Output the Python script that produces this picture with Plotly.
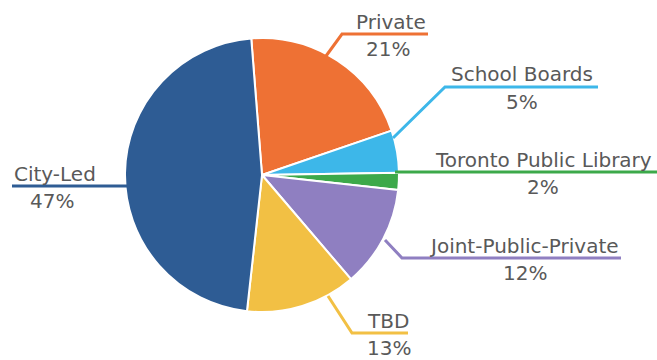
import plotly.graph_objects as go

# ---- data ----
categories = ["Private", "School Boards", "Toronto Public Library",
              "Joint-Public-Private", "TBD", "City-Led"]
shares = [21, 5, 2, 12, 13, 47]
pct_labels = ["21%", "5%", "2%", "12%", "13%", "47%"]

# ---- styles ----
colors = ["#EE7134", "#3DB7E9", "#3CA94A", "#8F7FC1", "#F2C044", "#2E5C94"]
W, H = 657, 360
font_family = "DejaVu Sans"
font_size = 20
text_color = "#595959"

# label layout in pixels: (pointer end x, y), (elbow x, y), line right end x, text centre x, pct centre x
label_layout = [
    ((326, 56), (342, 34), 428, 391, 388),
    ((393, 138), (445, 87), 598, 522, 522),
    ((395, 172), (395, 172), 657, 543, 543),
    ((385, 240), (402, 258), 621, 524, 525),
    ((328, 296), (352, 333), 408, 388, 389),
    ((127, 186), (127, 186), 12, 55, 52),
]

cx, cy, r = 262, 175, 137


def px(x):
    return x / W


def py(y):
    return 1 - y / H


fig = go.Figure()
fig.add_trace(go.Pie(
    labels=categories, values=shares, sort=False, direction="clockwise",
    rotation=-4.5, textinfo="none", hoverinfo="label+percent",
    marker=dict(colors=colors, line=dict(color="white", width=2)),
    domain=dict(x=[px(cx - r), px(cx + r)], y=[py(cy + r), py(cy - r)]),
    showlegend=False,
))

shapes = []
annotations = []
for cat, pct, col, (end, elbow, right_x, tx, pctx) in zip(categories, pct_labels, colors, label_layout):
    path = f"M {px(end[0])},{py(end[1])} L {px(elbow[0])},{py(elbow[1])} L {px(right_x)},{py(elbow[1])}"
    shapes.append(dict(type="path", xref="paper", yref="paper", path=path,
                       line=dict(color=col, width=3)))
    ly = elbow[1]
    annotations.append(dict(x=px(tx), y=py(ly - 12.5), xref="paper", yref="paper",
                            text=cat, showarrow=False, xanchor="center", yanchor="middle",
                            font=dict(family=font_family, size=font_size, color=text_color)))
    annotations.append(dict(x=px(pctx), y=py(ly + 15), xref="paper", yref="paper",
                            text=pct, showarrow=False, xanchor="center", yanchor="middle",
                            font=dict(family=font_family, size=font_size, color=text_color)))

fig.update_layout(
    width=W, height=H, margin=dict(l=0, r=0, t=0, b=0),
    paper_bgcolor="white", plot_bgcolor="white",
    shapes=shapes, annotations=annotations,
)

fig.write_html("out.html")
